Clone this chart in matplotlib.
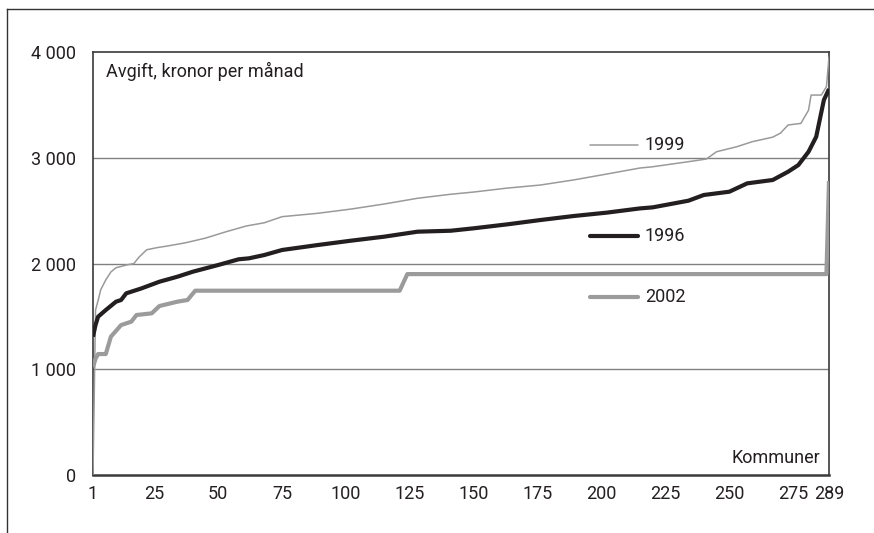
import matplotlib
matplotlib.use("Agg")
import matplotlib.pyplot as plt
from matplotlib.lines import Line2D

plt.rcParams['font.family'] = ['Roboto', 'DejaVu Sans']

# avgift per kommun, sorterad (kronor per månad)
rank_1999 = [1, 2, 3, 4, 6, 8, 10, 14, 17, 19, 22, 26, 30, 37, 45, 53, 61, 68, 75, 89,
             102, 115, 128, 141, 150, 163, 176, 189, 202, 215, 220, 234, 241, 245, 253,
             259, 267, 270, 273, 278, 281, 282, 286, 288, 289]
fee_1999 = [0, 1560, 1650, 1750, 1845, 1920, 1960, 1985, 2000, 2060, 2130, 2150, 2165,
            2195, 2240, 2300, 2355, 2385, 2443, 2475, 2515, 2563, 2617, 2655, 2676, 2713,
            2742, 2790, 2846, 2903, 2915, 2963, 2988, 3057, 3105, 3152, 3195, 3233, 3310,
            3325, 3450, 3593, 3593, 3672, 3950]

rank_1996 = [1, 2, 3, 6, 10, 12, 14, 20, 27, 34, 40, 50, 58, 62, 68, 75, 89, 102, 115,
             128, 141, 150, 163, 176, 189, 202, 215, 220, 234, 240, 250, 257, 267, 273,
             277, 281, 284, 287, 289]
fee_1996 = [1308, 1420, 1497, 1560, 1639, 1655, 1718, 1765, 1828, 1875, 1922, 1986, 2040,
            2049, 2080, 2128, 2175, 2216, 2254, 2301, 2310, 2333, 2370, 2411, 2449, 2481,
            2521, 2531, 2594, 2648, 2679, 2758, 2790, 2868, 2931, 3057, 3199, 3546, 3650]

rank_2002 = [1, 2, 3, 6, 8, 12, 16, 18, 24, 27, 34, 38, 41, 121, 124, 288, 289]
fee_2002 = [1020, 1100, 1144, 1144, 1308, 1418, 1450, 1513, 1529, 1598, 1639, 1655, 1743,
            1743, 1900, 1900, 2780]

y_ticks = [0, 1000, 2000, 3000, 4000]
y_labels = ['0', '1 000', '2 000', '3 000', '4 000']
x_ticks = [1, 25, 50, 75, 100, 125, 150, 175, 200, 225, 250, 275, 289]

frame = '#3a3a3a'
light = '#9a9a9a'
mid = '#9b9b9b'
dark = '#231f20'
fs = 13

fig = plt.figure(figsize=(8.74, 5.33), dpi=100)
ax = fig.add_axes([0.1064, 0.1088, 0.8421, 0.7936])

for y in [1000, 2000, 3000]:
    ax.axhline(y, color='#808080', lw=1.0, zorder=1)

ax.plot(rank_2002, fee_2002, color=mid, lw=3.0, solid_capstyle='butt', zorder=3)
ax.plot(rank_1999, fee_1999, color=light, lw=1.1, zorder=4)
ax.plot(rank_1996, fee_1996, color=dark, lw=3.0, solid_capstyle='butt', zorder=5)

ax.set_xlim(1, 289)
ax.set_ylim(0, 4000)
ax.set_yticks(y_ticks)
ax.set_yticklabels(y_labels)
ax.set_xticks(x_ticks)
ax.tick_params(length=0, labelsize=fs, colors='#231f20')
ax.tick_params(axis='y', pad=12)
ax.tick_params(axis='x', pad=7)

for s in ax.spines.values():
    s.set_color(frame)
    s.set_linewidth(1.2)
ax.spines['bottom'].set_linewidth(1.8)

ax.text(0.017, 0.955, 'Avgift, kronor per månad', transform=ax.transAxes,
        fontsize=fs, va='center', ha='left', color='#231f20')
ax.text(0.988, 0.040, 'Kommuner', transform=ax.transAxes,
        fontsize=fs, va='center', ha='right', color='#231f20')

# etiketter direkt i diagrammet
keys = [('1999', light, 1.1, 0.780), ('1996', dark, 3.0, 0.565), ('2002', mid, 3.0, 0.421)]
for name, col, lw, yy in keys:
    ax.plot([0.675, 0.741], [yy, yy], transform=ax.transAxes, color=col, lw=lw,
            solid_capstyle='round', clip_on=False)
    ax.text(0.750, yy, name, transform=ax.transAxes, fontsize=fs,
            va='center', ha='left', color='#231f20')

# ram runt figuren (topp och vänster)
fig.add_artist(Line2D([0.008, 1.0], [0.983, 0.983], color='#333333', lw=1.0))
fig.add_artist(Line2D([0.008, 0.008], [0.0, 0.983], color='#333333', lw=1.0))

fig.savefig('out.png', dpi=100)
